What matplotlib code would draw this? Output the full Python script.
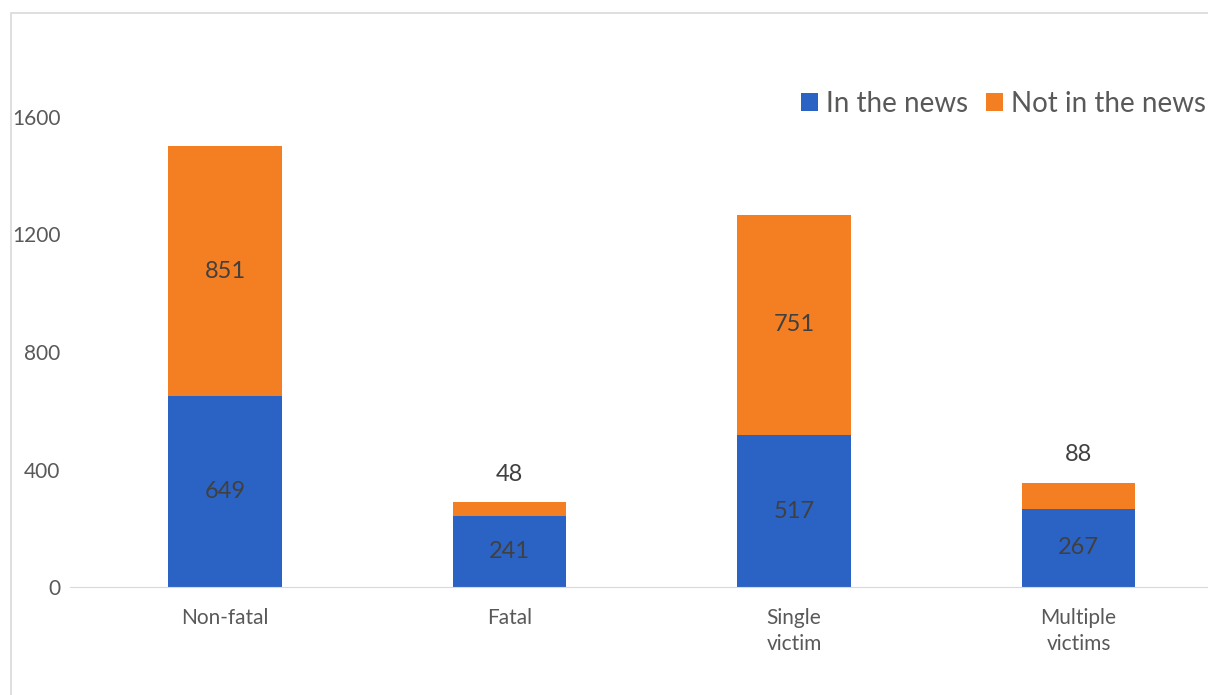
import matplotlib.pyplot as plt
from matplotlib.patches import Rectangle

categories = ['Non-fatal', 'Fatal', 'Single\nvictim', 'Multiple\nvictims']
in_news = [649, 241, 517, 267]
not_in_news = [851, 48, 751, 88]
yticks = [0, 400, 800, 1200, 1600]

blue = '#2B63C4'
orange = '#F47F22'
plt.rcParams['font.family'] = ['Lato', 'DejaVu Sans']

fig = plt.figure(figsize=(12.08, 6.95), dpi=100)
ax = fig.add_axes([70/1208, 108/695, 1138/1208, 470/695])

x = list(range(len(categories)))
b1 = ax.bar(x, in_news, width=0.4, color=blue, label='In the news')
b2 = ax.bar(x, not_in_news, width=0.4, bottom=in_news, color=orange, label='Not in the news')

# labels: inside for big segments, above the bar for tiny ones
for i in x:
    ax.text(i, in_news[i] / 2, str(in_news[i]), ha='center', va='center',
            fontsize=17, color='#404040')
    top = in_news[i] + not_in_news[i]
    if not_in_news[i] > 150:
        ax.text(i, in_news[i] + not_in_news[i] / 2, str(not_in_news[i]),
                ha='center', va='center', fontsize=17, color='#404040')
    else:
        ax.annotate(str(not_in_news[i]), (i, top), xytext=(0, 20),
                    textcoords='offset points', ha='center', va='center',
                    fontsize=17, color='#404040')

ax.set_xlim(-0.545, 3.455)
ax.set_ylim(0, 1600)
ax.set_yticks(yticks)
ax.set_xticks(x)
ax.set_xticklabels(categories, fontsize=15, color='#595959', linespacing=1.4)
ax.tick_params(axis='y', labelsize=15, labelcolor='#595959', length=0, pad=7)
ax.tick_params(axis='x', length=0, pad=15)
for s in ['top', 'right', 'left']:
    ax.spines[s].set_visible(False)
ax.spines['bottom'].set_color('#d9d9d9')

fig.legend(handles=[b1, b2], loc='center left', bbox_to_anchor=(776/1208, 1 - 104/695),
           ncol=2, frameon=False, fontsize=20, labelcolor='#595959',
           handlelength=0.6, handleheight=0.6, handletextpad=0.3, columnspacing=0.65)

fig.patches.append(Rectangle((11/1208, -0.1), 1.1, 1.1 - 13/695, transform=fig.transFigure,
                             fill=False, edgecolor='#d9d9d9', linewidth=1.2))

fig.savefig('out.png', dpi=100)
